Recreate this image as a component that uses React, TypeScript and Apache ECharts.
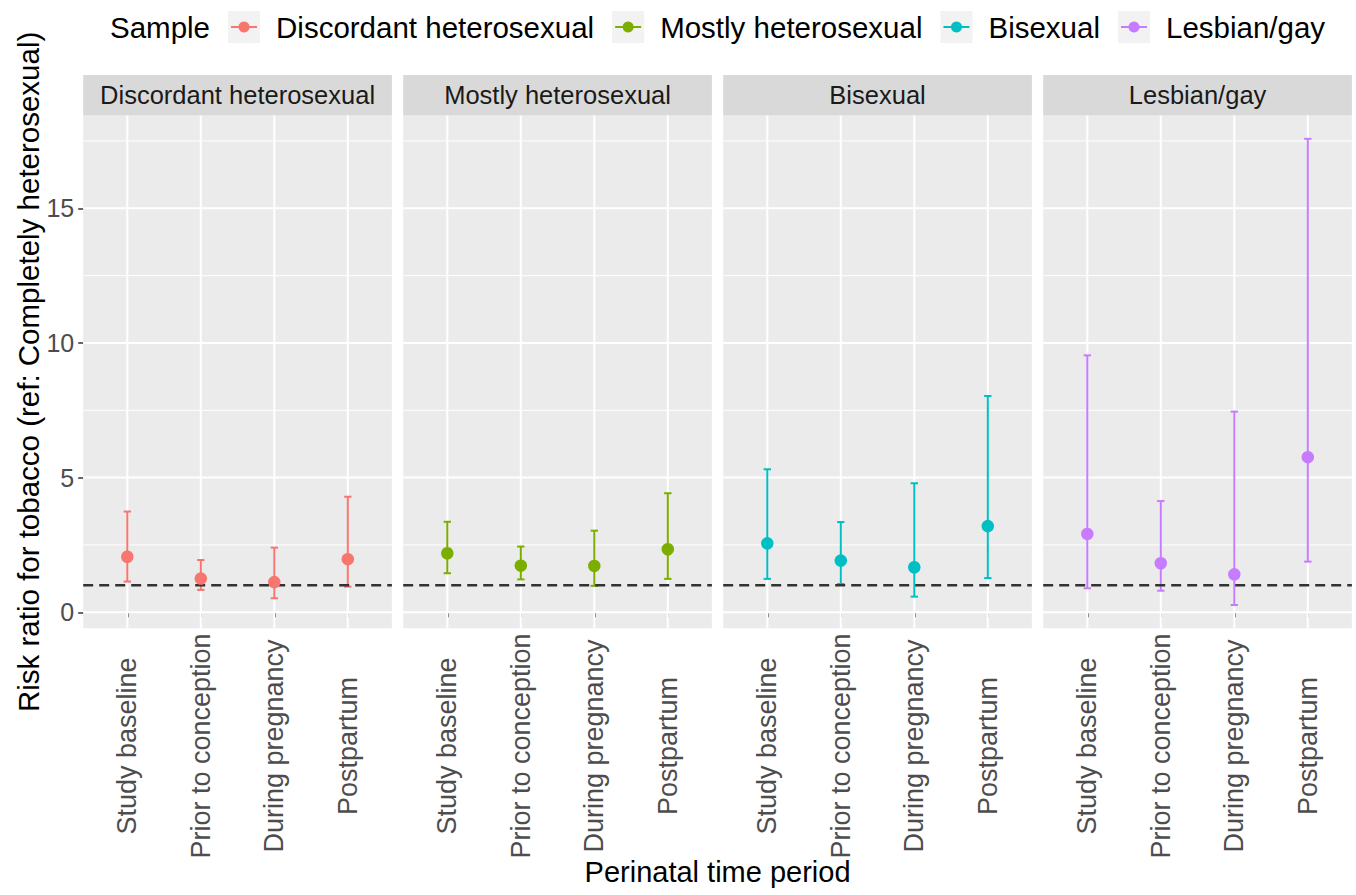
import React, { useEffect, useRef } from 'react';
import * as echarts from 'echarts';

const periods = ['Study baseline', 'Prior to conception', 'During pregnancy', 'Postpartum'];
const groups = ['Discordant heterosexual', 'Mostly heterosexual', 'Bisexual', 'Lesbian/gay'];
const colors = ['#F8766D', '#7CAE00', '#00BFC4', '#C77CFF'];

const discordantEst = [2.06, 1.25, 1.12, 1.97];
const discordantLow = [1.14, 0.83, 0.52, 0.95];
const discordantHigh = [3.74, 1.94, 2.40, 4.29];

const mostlyEst = [2.19, 1.73, 1.72, 2.34];
const mostlyLow = [1.45, 1.22, 0.98, 1.24];
const mostlyHigh = [3.36, 2.44, 3.03, 4.42];

const bisexualEst = [2.56, 1.92, 1.67, 3.20];
const bisexualLow = [1.24, 1.05, 0.58, 1.27];
const bisexualHigh = [5.31, 3.35, 4.79, 8.03];

const lesbianGayEst = [2.91, 1.82, 1.41, 5.76];
const lesbianGayLow = [0.89, 0.80, 0.27, 1.88];
const lesbianGayHigh = [9.54, 4.13, 7.45, 17.58];

const yBreaksMajor = [0, 5, 10, 15];
const yBreaksMinor = [2.5, 7.5, 12.5, 17.5];
const refValue = 1;

const legendTitle = 'Sample';
const xTitle = 'Perinatal time period';
const yTitle = 'Risk ratio for tobacco (ref: Completely heterosexual)';

const FONT = '"Liberation Sans", Arial, Helvetica, sans-serif';

export default function App() {
  const ref = useRef<HTMLDivElement>(null);
  useEffect(() => {
    const chart = echarts.init(ref.current!, null, { renderer: 'svg' });
    const estimates = [discordantEst, mostlyEst, bisexualEst, lesbianGayEst];
    const lows = [discordantLow, mostlyLow, bisexualLow, lesbianGayLow];
    const highs = [discordantHigh, mostlyHigh, bisexualHigh, lesbianGayHigh];

    const lo = Math.min(...lows.flat(), refValue);
    const hi = Math.max(...highs.flat(), refValue);
    const pad = (hi - lo) * 0.05;
    const yMin = lo - pad;
    const yMax = hi + pad;
    const xMin = 0.4;
    const xMax = periods.length + 0.6;
    const cats = periods.map((_, k) => k + 1);

    const panelLeft0 = 83.2;
    const panelPitch = 320;
    const panelW = 308.7;
    const panelTop = 115.5;
    const panelH = 512.8;
    const stripTop = 75;
    const xLabelCenter = 746;

    const grids: any[] = [];
    const xAxes: any[] = [];
    const yAxes: any[] = [];
    const series: any[] = [];
    const graphics: any[] = [];

    groups.forEach((g, i) => {
      const left = panelLeft0 + i * panelPitch;
      grids.push({ left, top: panelTop, width: panelW, height: panelH, show: true, backgroundColor: '#EBEBEB', borderWidth: 0 });
      xAxes.push({
        type: 'value', gridIndex: i, min: xMin, max: xMax,
        splitLine: { show: false }, axisLine: { show: false },
        axisTick: { show: true, customValues: cats, length: 5, lineStyle: { color: '#333333', width: 1.5 } },
        axisLabel: {
          show: true, customValues: cats, rotate: 90, margin: xLabelCenter - (panelTop + panelH),
          align: 'center', verticalAlign: 'middle',
          formatter: (v: number) => periods[Math.round(v) - 1] ?? '',
          color: '#4D4D4D', fontSize: 27, fontFamily: FONT,
        },
      });
      yAxes.push({
        type: 'value', gridIndex: i, min: yMin, max: yMax,
        splitLine: { show: false }, axisLine: { show: false },
        axisTick: { show: i === 0, customValues: yBreaksMajor, length: 5, lineStyle: { color: '#333333', width: 1.5 } },
        axisLabel: { show: i === 0, customValues: yBreaksMajor, margin: 9, color: '#4D4D4D', fontSize: 25, fontFamily: FONT },
      });

      const gridData = [
        ...yBreaksMajor.map((v) => [v, 0]),
        ...yBreaksMinor.map((v) => [v, 1]),
        ...cats.map((v) => [v, 2]),
      ];
      series.push({
        type: 'custom', xAxisIndex: i, yAxisIndex: i, z: 1, silent: true, clip: false,
        data: gridData,
        renderItem: (params: any, api: any) => {
          const v = api.value(0);
          const kind = api.value(1);
          let p1, p2;
          if (kind === 2) {
            p1 = api.coord([v, yMin]);
            p2 = api.coord([v, yMax]);
          } else {
            p1 = api.coord([xMin, v]);
            p2 = api.coord([xMax, v]);
          }
          return {
            type: 'line',
            shape: { x1: p1[0], y1: p1[1], x2: p2[0], y2: p2[1] },
            style: { stroke: '#FFFFFF', lineWidth: kind === 1 ? 1 : 2 },
          };
        },
      });

      series.push({
        type: 'custom', name: g, xAxisIndex: i, yAxisIndex: i, z: 2, silent: true,
        encode: { x: 0, y: [1, 2] },
        data: cats.map((c, k) => [c, lows[i][k], highs[i][k]]),
        renderItem: (params: any, api: any) => {
          const x = api.value(0);
          const top = api.coord([x, api.value(2)]);
          const bot = api.coord([x, api.value(1)]);
          const half = api.size([0.1, 0])[0] / 2;
          const style = { stroke: colors[i], lineWidth: 2 };
          return {
            type: 'group',
            children: [
              { type: 'line', shape: { x1: top[0], y1: top[1], x2: bot[0], y2: bot[1] }, style },
              { type: 'line', shape: { x1: top[0] - half, y1: top[1], x2: top[0] + half, y2: top[1] }, style },
              { type: 'line', shape: { x1: bot[0] - half, y1: bot[1], x2: bot[0] + half, y2: bot[1] }, style },
            ],
          };
        },
      });

      series.push({
        type: 'custom', xAxisIndex: i, yAxisIndex: i, z: 3, silent: true, clip: false,
        data: [[xMin, refValue]],
        renderItem: (params: any, api: any) => {
          const y = api.value(1);
          const p1 = api.coord([xMin, y]);
          const p2 = api.coord([xMax, y]);
          return {
            type: 'line',
            shape: { x1: p1[0], y1: p1[1], x2: p2[0], y2: p2[1] },
            style: { stroke: '#333333', lineWidth: 2.5, lineDash: [10, 6] },
          };
        },
      });

      series.push({
        type: 'scatter', name: g, xAxisIndex: i, yAxisIndex: i, z: 4,
        symbol: 'circle', symbolSize: 12.5,
        itemStyle: { color: colors[i], opacity: 1 },
        data: cats.map((c, k) => [c, estimates[i][k]]),
      });

      graphics.push({
        type: 'rect', silent: true,
        shape: { x: left, y: stripTop, width: panelW, height: panelTop - stripTop },
        style: { fill: '#D9D9D9' },
      });
      graphics.push({
        type: 'text', silent: true, x: left + panelW / 2, y: (stripTop + panelTop) / 2,
        style: { text: g, fontSize: 25.5, fontFamily: FONT, fill: '#1A1A1A', align: 'center', verticalAlign: 'middle' },
      });
    });

    // legend
    const ctx = document.createElement('canvas').getContext('2d')!;
    const legendFont = 29.5;
    ctx.font = `${legendFont}px ${FONT}`;
    const legendY = 27;
    let lx = 110;
    graphics.push({
      type: 'text', silent: true, x: lx, y: legendY,
      style: { text: legendTitle, fontSize: legendFont, fontFamily: FONT, fill: '#000000', align: 'left', verticalAlign: 'middle' },
    });
    lx += ctx.measureText(legendTitle).width + 18;
    groups.forEach((g, i) => {
      graphics.push({ type: 'rect', silent: true, shape: { x: lx, y: legendY - 16, width: 32, height: 32 }, style: { fill: '#F2F2F2' } });
      graphics.push({ type: 'line', silent: true, shape: { x1: lx + 3, y1: legendY, x2: lx + 29, y2: legendY }, style: { stroke: colors[i], lineWidth: 2 } });
      graphics.push({ type: 'circle', silent: true, shape: { cx: lx + 16, cy: legendY, r: 5.5 }, style: { fill: colors[i] } });
      graphics.push({
        type: 'text', silent: true, x: lx + 48, y: legendY,
        style: { text: g, fontSize: legendFont, fontFamily: FONT, fill: '#000000', align: 'left', verticalAlign: 'middle' },
      });
      lx += 48 + ctx.measureText(g).width + 18;
    });

    // axis titles
    const panelsLeft = panelLeft0;
    const panelsRight = panelLeft0 + (groups.length - 1) * panelPitch + panelW;
    graphics.push({
      type: 'text', silent: true, x: (panelsLeft + panelsRight) / 2, y: 872,
      style: { text: xTitle, fontSize: 29, fontFamily: FONT, fill: '#000000', align: 'center', verticalAlign: 'middle' },
    });
    graphics.push({
      type: 'text', silent: true, x: 28, y: panelTop + panelH / 2, rotation: Math.PI / 2,
      style: { text: yTitle, fontSize: 29.5, fontFamily: FONT, fill: '#000000', align: 'center', verticalAlign: 'middle' },
    });

    chart.setOption({
      animation: false,
      backgroundColor: '#FFFFFF',
      grid: grids,
      xAxis: xAxes,
      yAxis: yAxes,
      series,
      graphic: graphics,
    });
    return () => chart.dispose();
  }, []);
  return <div ref={ref} style={{ position: 'fixed', left: 0, top: 0, width: 1356, height: 895 }} />;
}
